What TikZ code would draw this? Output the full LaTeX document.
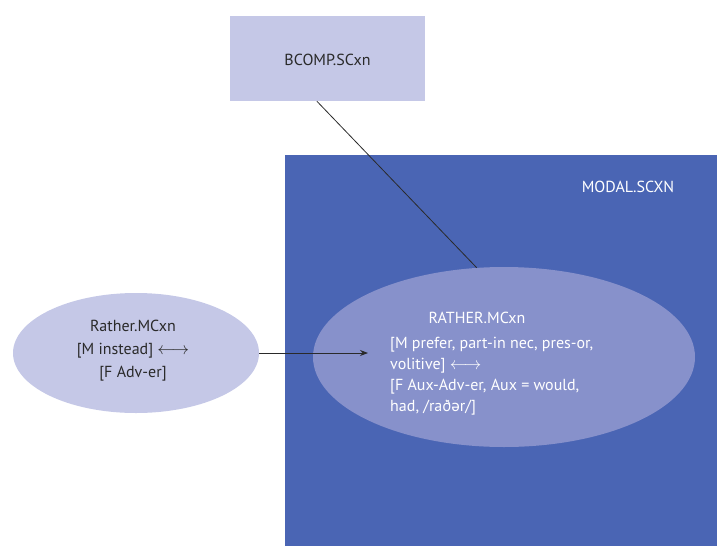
\documentclass[tikz,border=0pt]{standalone}
\usepackage{fontspec}
\setmainfont{PT Sans}
\newfontfamily\ipafont{Noto Sans}[Scale=0.95]
\usepackage{tikz}
\usetikzlibrary{shapes.geometric}
\usetikzlibrary{arrows.meta}
\definecolor{modalblue}{HTML}{4A65B4}
\definecolor{ratherfill}{HTML}{8791CB}
\definecolor{paleblue}{HTML}{C5C8E7}
\definecolor{inkgrey}{HTML}{2A2A2A}
\tikzset{
  txt/.style={font=\fontsize{16}{21}\selectfont, inner sep=0pt},
  blob/.style={ellipse, draw=none, inner sep=0pt},
  link/.style={draw=inkgrey, line width=0.8pt}
}

\begin{document}
\begin{tikzpicture}[x=1pt,y=-1pt]
        \useasboundingbox (0,0) rectangle (717,546);
        % constructions
        \node[fill=modalblue, minimum width=432pt, minimum height=391pt, inner sep=0pt] (modal) at (501,350.5) {};
        \node[txt, text=white] (modallbl) at (628,187) {MODAL.SCXN};
        \node[fill=paleblue, minimum width=195pt, minimum height=85pt, inner sep=0pt] (bcomp) at (327.5,58.5) {};
        \node[txt, text=inkgrey] (bcomplbl) at (327.5,60) {BCOMP.SCxn};
        % ellipses
        \node[blob, fill=ratherfill, minimum width=382pt, minimum height=180pt] (rather) at (504,357) {};
        \node[blob, fill=paleblue, minimum width=246pt, minimum height=120pt] (ratherm) at (136,353) {};
        % texts
        \node[txt, text=white] (ratherttl) at (477,318) {RATHER.MCxn};
        \node[txt, text=white, align=left, anchor=north west, font=\fontsize{16}{21}\selectfont] (rathertxt) at (390,337)
          {{[M prefer, part-in nec, pres-or,}\\ volitive] $\longleftrightarrow$\\ {[F Aux-Adv-er, Aux = would,}\\ had, /rað{\ipafont ə}r/]};
        \node[txt, text=inkgrey, align=center, font=\fontsize{16}{23}\selectfont] (rathermtxt) at (133,351)
          {Rather.MCxn\\ {[M instead] $\longleftrightarrow$}\\ {[F Adv-er]}};
        % links
        \coordinate (arrowend) at (368,353);
        \draw[link, -{Stealth[length=8pt,width=6pt]}] (ratherm.east) -- (arrowend);
        \draw[link] (bcomp.256) -- (rather.107);
    \end{tikzpicture}
\end{document}
